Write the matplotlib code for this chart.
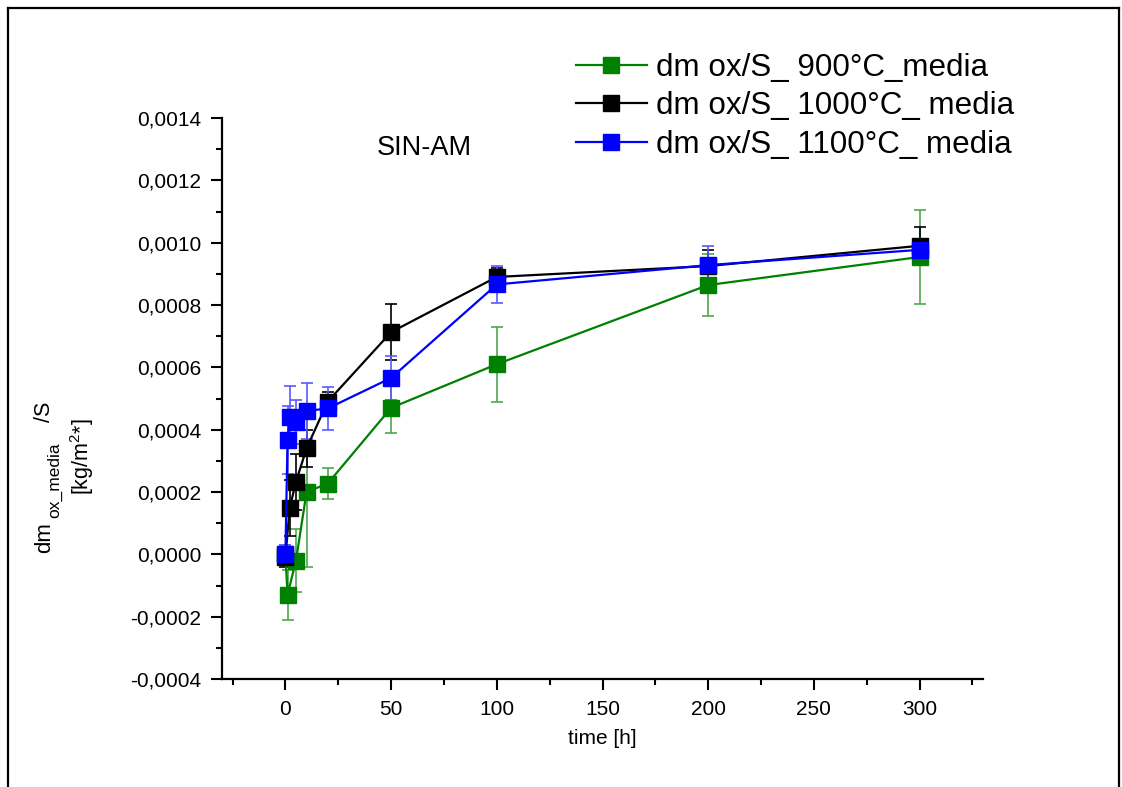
import matplotlib
matplotlib.use("Agg")
import matplotlib.pyplot as plt
from matplotlib.ticker import MultipleLocator, FuncFormatter
from matplotlib.lines import Line2D

plt.rcParams['font.family'] = ['Liberation Sans', 'DejaVu Sans']
plt.rcParams['mathtext.fontset'] = 'custom'
plt.rcParams['mathtext.rm'] = 'Liberation Sans'
plt.rcParams['mathtext.it'] = 'Liberation Sans'

# ---- data ----
t_900 = [0, 1, 5, 10, 20, 50, 100, 200, 300]
v_900 = [0.0, -0.00013, -0.00002, 0.00020, 0.000227, 0.00047, 0.00061, 0.000864, 0.000954]
e_900 = [0.00003, 0.00008, 0.00010, 0.00024, 0.00005, 0.00008, 0.00012, 0.00010, 0.00015]

t_1000 = [0, 2, 5, 10, 20, 50, 100, 200, 300]
v_1000 = [-0.00001, 0.000148, 0.000233, 0.00034, 0.00049, 0.000713, 0.00089, 0.000925, 0.00099]
e_1000 = [0.00003, 0.00009, 0.00009, 0.00006, 0.00003, 0.00009, 0.00003, 0.00005, 0.00006]

t_1100 = [0, 1, 2, 5, 10, 20, 50, 100, 200, 300]
v_1100 = [0.0, 0.000367, 0.00044, 0.000425, 0.00046, 0.000468, 0.000566, 0.000866, 0.000928, 0.000977]
e_1100 = [0.00003, 0.00011, 0.00010, 0.00007, 0.00009, 0.00007, 0.00007, 0.00006, 0.00006, 0.00003]

labels = ["dm ox/S_ 900°C_media", "dm ox/S_ 1000°C_ media", "dm ox/S_ 1100°C_ media"]
colors = ["#008000", "#000000", "#0000ff"]
err_colors = ["#4ea84e", "#000000", "#5a5aff"]

W, H = 1122, 787
fig = plt.figure(figsize=(W / 100, H / 100), dpi=100)
ax = fig.add_axes([222 / W, 1 - 679 / H, (983 - 222) / W, (679 - 118) / H])

series = [(t_900, v_900, e_900), (t_1000, v_1000, e_1000), (t_1100, v_1100, e_1100)]
handles = []
for (t, v, e), c, ec, lab in zip(series, colors, err_colors, labels):
    ax.errorbar(t, v, yerr=e, fmt='none', ecolor=ec, elinewidth=1.2, capsize=4.5,
                capthick=1.2, zorder=2)
    h, = ax.plot(t, v, color=c, lw=1.6, marker='s', markersize=12, markerfacecolor=c,
                 markeredgecolor=c, label=lab, zorder=3)
    handles.append(h)

ax.set_xlim(-30, 330)
ax.set_ylim(-0.0004, 0.0014)
for s in ['top', 'right']:
    ax.spines[s].set_visible(False)
for s in ['left', 'bottom']:
    ax.spines[s].set_linewidth(1.6)

ax.xaxis.set_major_locator(MultipleLocator(50))
ax.xaxis.set_minor_locator(MultipleLocator(25))
ax.yaxis.set_major_locator(MultipleLocator(0.0002))
ax.yaxis.set_minor_locator(MultipleLocator(0.0001))
ax.yaxis.set_major_formatter(FuncFormatter(lambda y, p: f"{y:.4f}".replace('.', ',').replace('-0,0000', '0,0000')))
ax.tick_params(which='major', direction='out', length=8, width=1.5, labelsize=15, pad=7)
ax.tick_params(which='minor', direction='out', length=4.5, width=1.5)

ax.set_xlabel("time [h]", fontsize=15, labelpad=7)

# y label, built from pieces (rotated, reading bottom to top)
fig.text(45 / W, 1 - 553 / H, "dm", rotation=90, fontsize=16, ha='center', va='bottom')
fig.text(55 / W, 1 - 518 / H, "ox_media", rotation=90, fontsize=12.5, ha='center', va='bottom')
fig.text(45 / W, 1 - 422 / H, "/S", rotation=90, fontsize=15.5, ha='center', va='bottom')
fig.text(82 / W, 1 - 457 / H, r"[kg/m$\mathregular{^2}$*]", rotation=90,
         fontsize=15.5, ha='center', va='center')

fig.text(424 / W, 1 - 148 / H, "SIN-AM", fontsize=19.5, ha='center', va='center')

leg = fig.legend(handles=handles, labels=labels, loc='upper left',
                 bbox_to_anchor=(576 / W, 1 - 53 / H), frameon=False, fontsize=22.6,
                 handlelength=2.25, handletextpad=0.3, labelspacing=0.27,
                 borderpad=0, borderaxespad=0, numpoints=1, markerscale=1.0)

# outer frame
fig.add_artist(Line2D([7.5 / W, 7.5 / W], [0, 1 - 8 / H], color='black', lw=1.6, transform=fig.transFigure))
fig.add_artist(Line2D([7.5 / W, 1119 / W], [1 - 8 / H, 1 - 8 / H], color='black', lw=1.6, transform=fig.transFigure))
fig.add_artist(Line2D([1119 / W, 1119 / W], [0, 1 - 8 / H], color='black', lw=1.6, transform=fig.transFigure))

fig.savefig("out.png", dpi=100)
